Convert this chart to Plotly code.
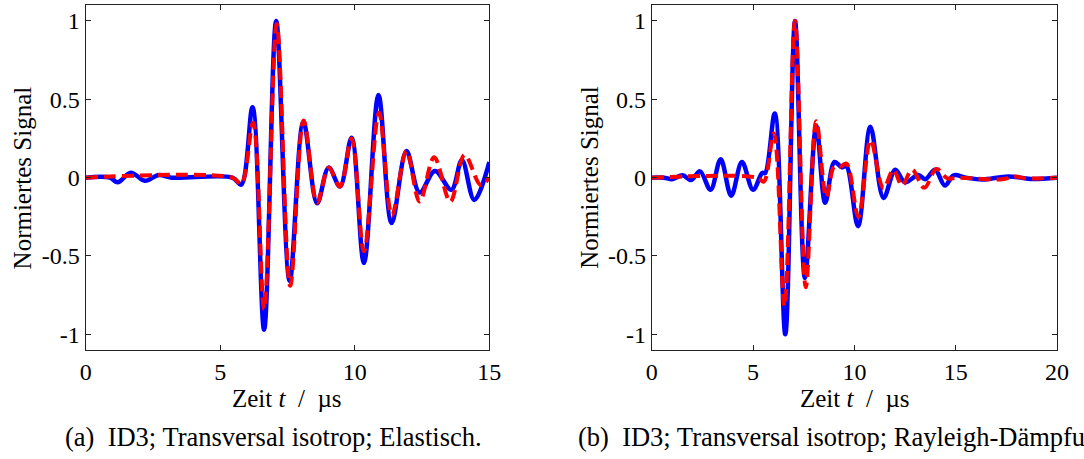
import plotly.graph_objects as go

# ---------- data (extrema of the waveforms) ----------
# (a) left panel, time in microseconds
a_blue_t = [0.0, 0.9, 1.19, 1.68, 2.2, 2.72, 3.2, 5.45, 5.78, 6.20, 6.63, 7.08, 7.58, 8.09, 8.60, 9.03, 9.45,
            9.88, 10.34, 10.88, 11.37, 11.92, 12.41, 12.98, 13.59, 13.98, 14.44, 15.0]
a_blue_v = [0.0, 0.0, -0.03, 0.032, -0.02, 0.017, 0.0, 0.0, -0.045, 0.45, -0.97, 1.0, -0.66, 0.357, -0.163, 0.064, -0.057,
            0.255, -0.545, 0.527, -0.29, 0.17, -0.095, 0.043, -0.078, 0.113, -0.142, 0.1]
a_red_t = [0.0, 5.45, 5.78, 6.22, 6.63, 7.1, 7.6, 8.1, 8.60, 9.03, 9.45, 9.88, 10.34, 10.9, 11.38, 11.92,
           12.41, 12.95, 13.55, 14.08, 14.68, 15.0]
a_red_v = [0.0, 0.0, -0.04, 0.35, -0.84, 0.98, -0.69, 0.365, -0.16, 0.064, -0.057, 0.25, -0.47, 0.414, -0.24, 0.17,
           -0.153, 0.13, -0.153, 0.145, -0.047, 0.0]

# (b) right panel
b_blue_t = [0.0, 0.6, 1.0, 1.52, 1.94, 2.38, 2.90, 3.40, 3.92, 4.45, 5.0, 5.45, 5.6, 6.07, 6.59, 7.07, 7.56, 8.12,
            8.56, 9.02, 9.37, 9.6, 10.18, 10.79, 11.44, 12.02, 12.5, 13.15, 13.5, 13.98, 14.47, 14.9, 15.5,
            16.3, 17.6, 18.7, 20.0]
b_blue_v = [0.0, 0.0, -0.01, 0.015, -0.015, 0.04, -0.078, 0.117, -0.115, 0.10, -0.078, 0.03, 0.03, 0.41, -1.0, 1.0,
            -0.64, 0.33, -0.16, 0.10, 0.066, 0.075, -0.31, 0.325, -0.13, 0.05, -0.03, 0.017, -0.01, 0.05, -0.05,
            0.015, 0.0, -0.012, 0.008, -0.008, 0.0]
b_red_t = [0.0, 5.2, 5.53, 6.02, 6.55, 7.07, 7.6, 8.12, 8.62, 9.0, 9.3, 9.61, 10.2, 10.8, 11.43, 11.93, 12.35,
           12.85, 13.45, 14.05, 14.6, 15.1, 17.3, 17.9, 18.5, 20.0]
b_red_v = [0.0, 0.0, -0.025, 0.283, -0.82, 1.0, -0.70, 0.36, -0.125, 0.07, 0.07, 0.09, -0.25, 0.24, -0.068, 0.05,
           -0.05, 0.05, -0.065, 0.055, -0.005, 0.0, -0.01, 0.008, -0.005, 0.0]

y_ticks = [-1, -0.5, 0, 0.5, 1]
y_tick_text = ["-1", "-0.5", "0", "0.5", "1"]
a_x_ticks = [0, 5, 10, 15]
b_x_ticks = [0, 5, 10, 15, 20]

y_title = "Normiertes Signal"
x_title = "Zeit <i>t</i>\u00a0 / \u00a0\u00b5s"
cap_a = "(a)\u00a0 ID3; Transversal isotrop; Elastisch."
cap_b = "(b)\u00a0 ID3; Transversal isotrop; Rayleigh-D\u00e4mpfung."

# ---------- figure ----------
W, H = 1084, 459
FONT = "Liberation Serif, Times New Roman, serif"
FS_TICK = 24
FS_TITLE = 25
FS_CAP = 26.5
BLUE = "#0000ff"
RED = "#ff0000"

fig = go.Figure()
for (t, v, xa, ya) in [(a_blue_t, a_blue_v, "x", "y"), (b_blue_t, b_blue_v, "x2", "y2")]:
    fig.add_trace(go.Scatter(x=t, y=v, xaxis=xa, yaxis=ya, mode="lines",
                             line=dict(color=BLUE, width=4.5, shape="spline", smoothing=1.0),
                             showlegend=False, hoverinfo="skip"))
for (t, v, xa, ya) in [(a_red_t, a_red_v, "x", "y"), (b_red_t, b_red_v, "x2", "y2")]:
    fig.add_trace(go.Scatter(x=t, y=v, xaxis=xa, yaxis=ya, mode="lines",
                             line=dict(color=RED, width=4, dash="12px,6px", shape="spline", smoothing=1.0),
                             showlegend=False, hoverinfo="skip"))


def px(x):
    return x / W


def py(y):
    return 1 - y / H


ydom = [py(350), py(5.3)]
axis_common = dict(showline=True, linecolor="#222", linewidth=1, mirror="ticks", ticks="inside",
                   ticklen=5, tickcolor="#222", tickwidth=1, showgrid=False, zeroline=False,
                   tickfont=dict(family=FONT, size=FS_TICK, color="black"))

fig.update_layout(
    width=W, height=H, margin=dict(l=0, r=0, t=0, b=0),
    paper_bgcolor="white", plot_bgcolor="white",
    font=dict(family=FONT, size=FS_TICK, color="black"),
    xaxis=dict(domain=[px(81), px(491.5)], range=[0, 15], tickvals=a_x_ticks, anchor="y", **axis_common),
    yaxis=dict(domain=ydom, range=[-1.1, 1.1], tickvals=y_ticks, ticktext=y_tick_text, anchor="x", **axis_common),
    xaxis2=dict(domain=[px(656.7), px(1068.7)], range=[0, 20], tickvals=b_x_ticks, anchor="y2", **axis_common),
    yaxis2=dict(domain=ydom, range=[-1.1, 1.1], tickvals=y_ticks, ticktext=y_tick_text, anchor="x2", **axis_common),
)

ann = []
ann.append(dict(text=y_title, x=px(17), y=py(177.7), textangle=-90, size=FS_TITLE))
ann.append(dict(text=y_title, x=px(594), y=py(177.7), textangle=-90, size=FS_TITLE))
ann.append(dict(text=x_title, x=px(286), y=py(398), size=FS_TITLE))
ann.append(dict(text=x_title, x=px(863), y=py(398), size=FS_TITLE))
ann.append(dict(text=cap_a, x=px(272), y=py(437), size=FS_CAP))
for a in ann:
    s = a.pop("size")
    a.update(xref="paper", yref="paper", showarrow=False, xanchor="center", yanchor="middle",
             font=dict(family=FONT, size=s, color="black"))
fig.update_layout(annotations=ann)
fig.add_annotation(text=cap_b, x=px(580), y=py(437), xref="paper", yref="paper", showarrow=False,
                   xanchor="left", yanchor="middle", font=dict(family=FONT, size=FS_CAP, color="black"))

fig.write_html("out.html")
